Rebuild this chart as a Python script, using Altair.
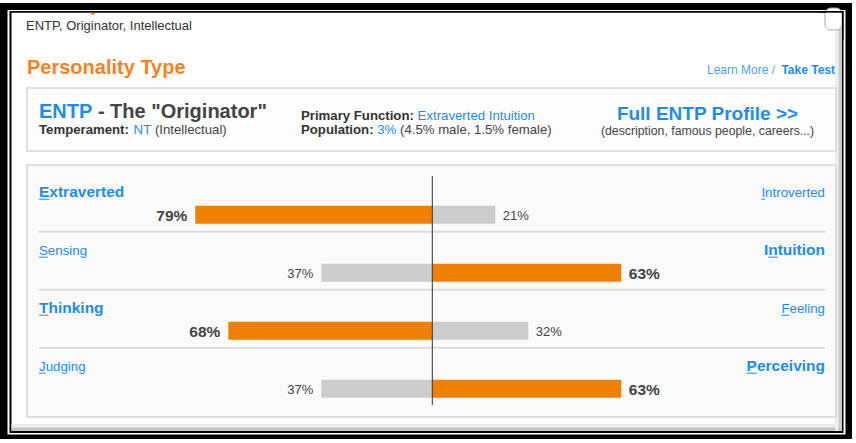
import altair as alt
import pandas as pd

# ---------------- data ----------------
left_traits = ["Extraverted", "Sensing", "Thinking", "Judging"]
right_traits = ["Introverted", "Intuition", "Feeling", "Perceiving"]
left_pct = [79, 37, 68, 37]
right_pct = [21, 63, 32, 63]
left_underline = [0, 0, 0, 0]   # index of the accent-underlined letter
right_underline = [0, 1, 0, 0]

# ---------------- style ----------------
FONT = "Liberation Sans"
BLUE = "#1d8cf0"
BLUE_LIGHT = "#4ea2ee"
ORANGE = "#f08000"
TITLE_ORANGE = "#f5821f"
GRAY_BAR = "#cccccc"
DARK = "#333333"
TXT = "#444444"

# Arial / Liberation Sans advance widths (per 1000 em)
_REG = {" ": 278, '"': 355, "%": 889, "(": 333, ")": 333, ",": 278, "-": 333, ".": 278, "/": 278, ":": 278, ">": 584}
_BOLD = {" ": 278, '"': 474, "%": 889, "(": 333, ")": 333, ",": 278, "-": 333, ".": 278, "/": 278, ":": 333, ">": 584}
for d in "0123456789":
    _REG[d] = 556
    _BOLD[d] = 556
_up_r = dict(zip("ABCDEFGHIJKLMNOPQRSTUVWXYZ", [667, 667, 722, 722, 667, 611, 778, 722, 278, 500, 667, 556, 833, 722, 778, 667, 778, 722, 667, 611, 722, 667, 944, 667, 667, 611]))
_up_b = dict(zip("ABCDEFGHIJKLMNOPQRSTUVWXYZ", [722, 722, 722, 722, 667, 611, 778, 722, 278, 556, 722, 611, 833, 722, 778, 667, 778, 722, 667, 611, 722, 667, 944, 667, 667, 611]))
_lo_r = dict(zip("abcdefghijklmnopqrstuvwxyz", [556, 556, 500, 556, 556, 278, 556, 556, 222, 222, 500, 222, 833, 556, 556, 556, 556, 333, 500, 278, 556, 500, 722, 500, 500, 500]))
_lo_b = dict(zip("abcdefghijklmnopqrstuvwxyz", [556, 611, 556, 611, 556, 333, 611, 611, 278, 278, 556, 278, 889, 611, 611, 611, 611, 389, 556, 333, 611, 556, 778, 556, 556, 500]))
_REG.update(_up_r); _REG.update(_lo_r)
_BOLD.update(_up_b); _BOLD.update(_lo_b)


def tw(s, size, bold=False):
    tab = _BOLD if bold else _REG
    return float(sum(tab.get(c, 556) for c in s) * size / 1000.0)


one = pd.DataFrame({"k": [0]})

X = alt.Scale(domain=[-100, 100], range=[132.3, 732.3], nice=False, zero=False, padding=0)
Y = alt.Scale(domain=[0, 3], range=[214.7, 388.7], nice=False, zero=False, padding=0)


def rect(x0, x1, y0, y1, **kw):
    return alt.Chart(one).mark_rect(**kw).encode(
        x=alt.value(x0), x2=alt.value(x1), y=alt.value(y0), y2=alt.value(y1))


def label(text, x, y, size, color, bold=False, align="left"):
    return alt.Chart(one).mark_text(
        text=text, align=align, baseline="alphabetic", font=FONT, fontSize=size,
        fontWeight="bold" if bold else "normal", color=color
    ).encode(x=alt.value(x), y=alt.value(y))


layers = []

# ---------------- window frame ----------------
layers += [
    rect(0, 852, 3, 439, color="black"),
    rect(7.5, 845.5, 10, 434.5, color="white"),
    rect(9.5, 843.5, 11, 433, color="black"),
    rect(11.5, 842, 12.7, 431, color="white"),
    rect(11.5, 842, 424, 427.5, color="#ececec"),
    rect(11.5, 842, 427.5, 431, color="#c4c4c4"),
    rect(835, 838.5, 12.7, 431, color="#eeeeee"),
    rect(838.5, 842, 12.7, 431, color="#cacaca"),
    rect(825, 842, 8, 30, color="white", stroke="#a8a8a8", strokeWidth=1, cornerRadius=6),
    rect(820, 843.5, 11, 12.7, color="black"),
    rect(842, 843.5, 11, 40, color="black"),
    rect(91, 95, 12.7, 14.5, color=TITLE_ORANGE),
]

# ---------------- page header ----------------
layers += [
    label("ENTP, Originator, Intellectual", 26, 30, 13, DARK),
    label("Personality Type", 27, 74, 20, TITLE_ORANGE, bold=True),
    label("Learn More /", 707, 74, 12, BLUE_LIGHT),
    label("Take Test", 835, 74, 12, BLUE, bold=True, align="right"),
]

# ---------------- info box ----------------
layers.append(rect(27, 836, 88, 151, color="#fdfdfd", stroke="#d6d6d6", strokeWidth=1.5))
x_t = 39 + tw("ENTP ", 20, True)
layers += [
    label("ENTP", 39, 118, 20, BLUE, bold=True),
    label('- The "Originator"', x_t, 118, 20, TXT, bold=True),
]
FS = 13.2
x_nt = 39 + tw("Temperament: ", FS, True)
x_in = x_nt + tw("NT ", FS)
layers += [
    label("Temperament:", 39, 134, FS, DARK, bold=True),
    label("NT", x_nt, 134, FS, BLUE),
    label("(Intellectual)", x_in, 134, FS, TXT),
]
x_pf = 301 + tw("Primary Function: ", FS, True)
x_p3 = 301 + tw("Population: ", FS, True)
x_pr = x_p3 + tw("3% ", FS)
layers += [
    label("Primary Function:", 301, 120, FS, DARK, bold=True),
    label("Extraverted Intuition", x_pf, 120, FS, BLUE),
    label("Population:", 301, 134, FS, DARK, bold=True),
    label("3%", x_p3, 134, FS, BLUE),
    label("(4.5% male, 1.5% female)", x_pr, 134, FS, TXT),
    label("Full ENTP Profile >>", 707.5, 119.5, 19, BLUE, bold=True, align="center"),
    label("(description, famous people, careers...)", 707.5, 134.5, 12.3, TXT, align="center"),
]

# ---------------- chart box ----------------
layers.append(rect(27, 836, 165, 417, color="#fafafa", stroke="#d6d6d6", strokeWidth=1.5))

n = len(left_traits)

# separators between rows
sep = pd.DataFrame({"row": list(range(n - 1))})
layers.append(
    alt.Chart(sep).mark_rule(color="#dcdcdc", strokeWidth=2, yOffset=17).encode(
        y=alt.Y("row:Q", scale=Y, axis=None), x=alt.value(39), x2=alt.value(825))
)

# bars
bar_recs = []
for i in range(n):
    lp, rp = left_pct[i], right_pct[i]
    bar_recs.append({"row": i, "start": -lp, "end": 0, "dom": "yes" if lp > rp else "no"})
    bar_recs.append({"row": i, "start": 0, "end": rp, "dom": "yes" if rp > lp else "no"})
bars = pd.DataFrame(bar_recs)
layers.append(
    alt.Chart(bars).mark_bar(size=18).encode(
        x=alt.X("start:Q", scale=X, axis=None), x2="end:Q",
        y=alt.Y("row:Q", scale=Y, axis=None),
        color=alt.Color("dom:N", scale=alt.Scale(domain=["yes", "no"], range=[ORANGE, GRAY_BAR]), legend=None),
    )
)

# centre line
centre = pd.DataFrame({"c": [0]})
layers.append(
    alt.Chart(centre).mark_rule(color=DARK, strokeWidth=1).encode(
        x=alt.X("c:Q", scale=X, axis=None), y=alt.value(176), y2=alt.value(405))
)

# percentage labels
pct_recs = []
for i in range(n):
    lp, rp = left_pct[i], right_pct[i]
    pct_recs.append({"row": i, "side": "L", "xv": -lp, "txt": f"{lp}%", "dom": "yes" if lp > rp else "no"})
    pct_recs.append({"row": i, "side": "R", "xv": rp, "txt": f"{rp}%", "dom": "yes" if rp > lp else "no"})
pct = pd.DataFrame(pct_recs)
for side in ["L", "R"]:
    for dom in ["yes", "no"]:
        sub = pct[(pct["side"] == side) & (pct["dom"] == dom)].reset_index(drop=True)
        b = dom == "yes"
        layers.append(
            alt.Chart(sub).mark_text(
                align="right" if side == "L" else "left",
                dx=-8 if side == "L" else 7.5,
                dy=6 if b else 5.5,
                baseline="alphabetic", font=FONT,
                fontSize=15.5 if b else 13,
                fontWeight="bold" if b else "normal",
                color=TXT,
            ).encode(
                x=alt.X("xv:Q", scale=X, axis=None),
                y=alt.Y("row:Q", scale=Y, axis=None),
                text="txt:N",
            )
        )

# trait labels with accent underline
LB, LN = 15.5, 13.3
lab_recs = []
for i in range(n):
    lp, rp = left_pct[i], right_pct[i]
    for side, t, b, u in [("L", left_traits[i], lp > rp, left_underline[i]),
                          ("R", right_traits[i], rp > lp, right_underline[i])]:
        size = LB if b else LN
        w = tw(t, size, b)
        x0 = 39.0 if side == "L" else 825.0 - w
        ux0 = x0 + tw(t[:u], size, b)
        ux1 = ux0 + tw(t[u], size, b)
        lab_recs.append({"row": i, "side": side, "txt": t, "dom": "yes" if b else "no",
                         "ux0": round(ux0, 2), "ux1": round(ux1, 2)})
labs = pd.DataFrame(lab_recs)
for side in ["L", "R"]:
    for dom in ["yes", "no"]:
        sub = labs[(labs["side"] == side) & (labs["dom"] == dom)].reset_index(drop=True)[["row", "txt"]]
        b = dom == "yes"
        layers.append(
            alt.Chart(sub).mark_text(
                align="left" if side == "L" else "right",
                dy=-17.5, baseline="alphabetic", font=FONT,
                fontSize=LB if b else LN,
                fontWeight="bold" if b else "normal",
                color=BLUE,
            ).encode(
                x=alt.value(39 if side == "L" else 825),
                y=alt.Y("row:Q", scale=Y, axis=None),
                text="txt:N",
            )
        )
for rec in lab_recs:
    layers.append(
        alt.Chart(pd.DataFrame({"row": [rec["row"]]})).mark_rule(
            color=BLUE, strokeWidth=1, yOffset=-15.5
        ).encode(
            y=alt.Y("row:Q", scale=Y, axis=None),
            x=alt.value(rec["ux0"]), x2=alt.value(rec["ux1"]),
        )
    )

chart = alt.layer(*layers).properties(
    width=856, height=443,
    autosize=alt.AutoSizeParams(type="none"),
    padding=0,
    background="white",
).configure_view(strokeWidth=0)

chart.save("out.html", embed_options={"renderer": "svg", "actions": False})
